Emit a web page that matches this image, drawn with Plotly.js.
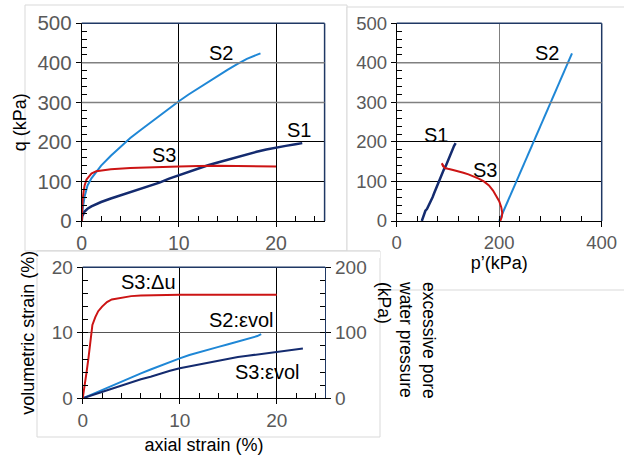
<!DOCTYPE html>
<html>
<head>
<meta charset="utf-8">
<script src="https://cdn.plot.ly/plotly-3.0.1.min.js"></script>
<style>html,body{margin:0;padding:0;background:#fff;}#chart{width:624px;height:459px;}</style>
</head>
<body>
<div id="chart"></div>
<script>
// ---- Data: q (kPa) vs axial strain (%) ----
const eaS1 = [0,0.05,0.3,0.6,1,1.5,2,3,4,5,6,7,8,9,10,11,12,13,14,15,16,17,18,19,20,21,22,22.7];
const qS1  = [0,12,24,31,37,43,48,57,65,73,81,89,97,107,116,125,133,141,148,155,162,169,175,181,186,190,194,197];
const eaS2 = [0,0.1,0.3,0.6,1,1.5,2,3,4,4.5,5,6,7,8,9,10,11,12,13,14,15,16,17,18,18.4];
const qS2  = [0,30,62,90,108,124,140,165,188,200,210,229,248,266,284,303,320,336,352,367,382,397,410,420,424];
const eaS3 = [0,0.05,0.1,0.2,0.3,0.5,0.8,1,1.5,2,3,5,8,10,12,14,16,18,20];
const qS3  = [0,35,55,75,90,105,116,120,126,128,131,134,137,138,139,140,139,138,138];

// ---- Data: q (kPa) vs p' (kPa) ----
const pS1 = [49,51,53,56,59,63,66,70,73,76,80,83,86,89,92,96,99,102,106,109,112,115];
const pqS1 = [0,8,14,26,30,40,50,60,70,80,90,100,110,120,130,140,150,160,170,180,190,197];
const pS2 = [200,210,222,235,250,265,280,295,310,325,342];
const pqS2 = [0,30,66,105,150,195,240,285,330,375,424];
const pS3 = [202,205,206,204,200,195,188,180,170,160,150,140,130,120,110,100,94,88,91];
const pqS3 = [0,10,20,35,50,63,77,90,100,107,113,118,122,126,129,132,134,146,137];

// ---- Data: volumetric strain (%) / excess pore pressure (kPa) vs axial strain (%) ----
const eaU3 = [0,0.1,0.2,0.4,0.6,0.8,1,1.3,1.6,2,2.5,3,4,5,6,8,10,13,16,20];
const duS3 = [0,12,25,40,62,90,112,124,133,140,147,151,154,156,157,158,158,158,158,158];
const eaV2 = [0,1,2,3,4,5,6,7,8,9,10,11,12,13,14,15,16,17,18,18.4];
const evS2 = [0,0.65,1.3,1.95,2.6,3.2,3.8,4.4,5.0,5.6,6.1,6.6,7.05,7.45,7.85,8.25,8.65,9.05,9.5,9.8];
const eaV3 = [0,1,2,3,4,5,6,7,8,9,10,11,12,13,14,15,16,17,18,19,20,21,22,22.7];
const evS3 = [0,0.5,1.0,1.5,2.0,2.4,2.9,3.3,3.8,4.2,4.6,4.9,5.2,5.5,5.8,6.1,6.3,6.5,6.7,6.9,7.1,7.3,7.5,7.6];

const labels = {tl:['S1','S2','S3'], tr:['S1','S2','S3'], bot:['S3:Δu','S2:εvol','S3:εvol']};

const FONT = 'Liberation Sans, Arial, sans-serif';
const NAVY = '#142b6f', BLUE = '#1f87d6', RED = '#cc1414', FRAME = '#1f3864';
const W = 624, H = 459;
const px = v => v / W, py = v => 1 - v / H;

function axis(extra) {
  return Object.assign({
    showline: true, linecolor: '#000', linewidth: 1,
    ticks: 'outside', ticklen: 5, tickcolor: '#000', tickwidth: 1,
    tickfont: {family: FONT, size: 19, color: '#595959'},
    showgrid: true, gridcolor: '#000', gridwidth: 1,
    zeroline: false, fixedrange: true
  }, extra);
}
function minor(d) { return {ticks: 'inside', dtick: d, ticklen: 5, tickcolor: '#000', showgrid: false}; }
const titleFont = {family: FONT, size: 18, color: '#000'};

const traces = [
  {x: eaS2, y: qS2, xaxis: 'x', yaxis: 'y', mode: 'lines', line: {color: BLUE, width: 2}, name: 'S2'},
  {x: eaS1, y: qS1, xaxis: 'x', yaxis: 'y', mode: 'lines', line: {color: NAVY, width: 2.5}, name: 'S1'},
  {x: eaS3, y: qS3, xaxis: 'x', yaxis: 'y', mode: 'lines', line: {color: RED, width: 2}, name: 'S3'},
  {x: pS1, y: pqS1, xaxis: 'x2', yaxis: 'y2', mode: 'lines', line: {color: NAVY, width: 2.5}, name: 'S1'},
  {x: pS2, y: pqS2, xaxis: 'x2', yaxis: 'y2', mode: 'lines', line: {color: BLUE, width: 2}, name: 'S2'},
  {x: pS3, y: pqS3, xaxis: 'x2', yaxis: 'y2', mode: 'lines', line: {color: RED, width: 2}, name: 'S3'},
  {x: eaV2, y: evS2, xaxis: 'x3', yaxis: 'y3', mode: 'lines', line: {color: BLUE, width: 2}, name: 'S2:εvol'},
  {x: eaV3, y: evS3, xaxis: 'x3', yaxis: 'y3', mode: 'lines', line: {color: NAVY, width: 2}, name: 'S3:εvol'},
  {x: eaU3, y: duS3, xaxis: 'x3', yaxis: 'y4', mode: 'lines', line: {color: RED, width: 2}, name: 'S3:Δu'}
];

function frame(xr, yr) {
  return [
    {type: 'line', xref: xr + ' domain', yref: yr + ' domain', x0: 0, x1: 1, y0: 1, y1: 1, line: {color: FRAME, width: 1.5}},
    {type: 'line', xref: xr + ' domain', yref: yr + ' domain', x0: 1, x1: 1, y0: 0, y1: 1, line: {color: FRAME, width: 1.5}}
  ];
}
function grayGrid(xr, yr, yv) {
  return {type: 'line', layer: 'above', xref: xr + ' domain', yref: yr, x0: 0, x1: 1, y0: yv, y1: yv, line: {color: '#808080', width: 1.5}};
}
function box(x0, y0, x1, y1, layer) {
  return {type: 'rect', xref: 'paper', yref: 'paper', layer: layer || 'below', x0: px(x0), x1: px(x1), y0: py(y1), y1: py(y0),
    fillcolor: '#fff', line: {color: '#d9d9d9', width: 1}};
}

const shapes = [
  box(25, 5, 347, 251),
  box(347, 7, 640, 290),
  box(37, 251, 380, 437),
  ...frame('x', 'y'), ...frame('x2', 'y2'),
  {type: 'line', xref: 'x3 domain', yref: 'y3 domain', x0: 0, x1: 1, y0: 1, y1: 1, line: {color: FRAME, width: 1.5}},
  grayGrid('x', 'y', 300), grayGrid('x', 'y', 400),
  grayGrid('x2', 'y2', 300), grayGrid('x2', 'y2', 400),
  // strip of the lower panel overlapping the upper panel's tick labels
  {type: 'rect', xref: 'paper', yref: 'paper', layer: 'above', x0: px(37), x1: px(380), y0: py(258), y1: py(251.5), fillcolor: '#fff', line: {width: 0}},
  {type: 'line', xref: 'paper', yref: 'paper', layer: 'above', x0: px(37), x1: px(380), y0: py(251), y1: py(251), line: {color: '#d9d9d9', width: 1}}
];

function ann(text, xr, yr, x, y) {
  return {text: text, xref: xr, yref: yr, x: x, y: y, showarrow: false, font: {family: FONT, size: 20, color: '#000'}, xanchor: 'center', yanchor: 'middle'};
}
const annotations = [
  ann(labels.tl[0], 'x', 'y', 22.4, 230),
  ann(labels.tl[1], 'x', 'y', 14.3, 426),
  ann(labels.tl[2], 'x', 'y', 8.5, 168),
  ann(labels.tr[0], 'x2', 'y2', 76, 217),
  ann(labels.tr[1], 'x2', 'y2', 294, 426),
  ann(labels.tr[2], 'x2', 'y2', 172, 129),
  ann(labels.bot[0], 'x3', 'y3', 6.8, 17.7),
  ann(labels.bot[1], 'x3', 'y3', 16.4, 11.95),
  ann(labels.bot[2], 'x3', 'y3', 19.1, 3.94),
  {text: 'excessive pore<br>water pressure<br>(kPa)', xref: 'paper', yref: 'paper', x: px(406), y: py(279),
   xanchor: 'center', yanchor: 'top', textangle: 90, align: 'left', showarrow: false,
   font: {family: FONT, size: 17.5, color: '#000'}}
];

const layout = {
  width: W, height: H, margin: {l: 0, r: 0, t: 0, b: 0},
  paper_bgcolor: '#fff', plot_bgcolor: 'rgba(0,0,0,0)', showlegend: false,
  font: {family: FONT},
  xaxis: axis({domain: [px(81.7), px(324.6)], range: [0, 25], dtick: 10, anchor: 'y', minor: minor(2),
    tickfont: {family: FONT, size: 19.5, color: '#595959'}}),
  yaxis: axis({domain: [py(221), py(23.3)], range: [0, 500], dtick: 100, anchor: 'x', minor: minor(20),
    tickfont: {family: FONT, size: 20.5, color: '#595959'},
    title: {text: 'q (kPa)', font: titleFont, standoff: 6}}),
  xaxis2: axis({domain: [px(396.7), px(601.7)], range: [0, 400], dtick: 200, anchor: 'y2', minor: minor(40),
    gridcolor: '#808080', tickfont: {family: FONT, size: 18.5, color: '#595959'},
    title: {text: 'p’(kPa)', font: titleFont, standoff: 4}}),
  yaxis2: axis({domain: [py(221), py(23.3)], range: [0, 500], dtick: 100, anchor: 'x2', minor: minor(20),
    tickfont: {family: FONT, size: 18.5, color: '#595959'}}),
  xaxis3: axis({domain: [px(82.7), px(325.2)], range: [0, 25], dtick: 10, anchor: 'y3', minor: minor(2),
    title: {text: 'axial strain (%)', font: titleFont, standoff: 8}}),
  yaxis3: axis({domain: [py(398.3), py(267.3)], range: [0, 20], dtick: 10, anchor: 'x3', minor: minor(2),
    gridcolor: '#555',
    title: {text: 'volumetric strain (%)', font: titleFont, standoff: 12}}),
  yaxis4: axis({overlaying: 'y3', side: 'right', anchor: 'x3', range: [0, 200], dtick: 100, minor: minor(20),
    showgrid: false, linecolor: FRAME}),
  shapes: shapes,
  annotations: annotations
};

Plotly.newPlot('chart', traces, layout, {staticPlot: true, displayModeBar: false});
</script>
</body>
</html>
